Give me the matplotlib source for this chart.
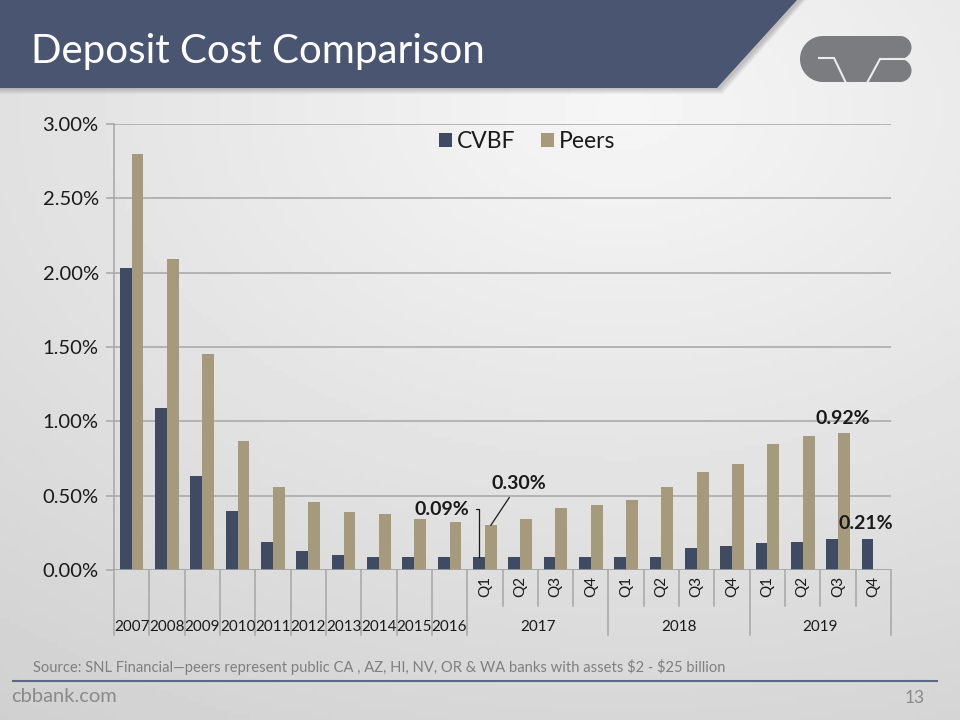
import numpy as np
import matplotlib
matplotlib.use("Agg")
import matplotlib.pyplot as plt
from matplotlib import transforms
from matplotlib.patches import Polygon

plt.rcParams['font.family'] = ['Lato', 'DejaVu Sans']

# data
years = ['2007', '2008', '2009', '2010', '2011', '2012', '2013', '2014', '2015', '2016']
quarter_years = ['2017', '2018', '2019']
quarters = ['Q1', 'Q2', 'Q3', 'Q4']
cvbf = [2.03, 1.09, 0.63, 0.40, 0.19, 0.13, 0.10, 0.09, 0.09, 0.09,
        0.09, 0.09, 0.09, 0.09,
        0.09, 0.09, 0.15, 0.16,
        0.18, 0.19, 0.21, 0.21]
peers = [2.80, 2.09, 1.45, 0.87, 0.56, 0.46, 0.39, 0.38, 0.34, 0.32,
         0.30, 0.34, 0.42, 0.44,
         0.47, 0.56, 0.66, 0.71,
         0.85, 0.90, 0.92, np.nan]
y_ticks = [0.0, 0.5, 1.0, 1.5, 2.0, 2.5, 3.0]

CVBF_COL = '#3f4a63'
PEER_COL = '#a59b7c'
BANNER = '#4a5571'
TXT = '#1a1a1a'

W, H = 960, 720
fig = plt.figure(figsize=(W / 100, H / 100), dpi=100)

# background in pixel coords (y downward)
bg = fig.add_axes([0, 0, 1, 1])
bg.axis('off')
gx, gy = np.meshgrid(np.linspace(0, 1, 200), np.linspace(0, 1, 150))
r = np.sqrt(((gx - 0.65) / 1.0) ** 2 + ((gy - 0.15) / 0.9) ** 2)
shade = 0.965 - 0.13 * np.clip(r, 0, 1.2)
bg.imshow(shade, cmap='gray', vmin=0, vmax=1, extent=[0, W, H, 0], aspect='auto', zorder=0)
bg.set_xlim(0, W)
bg.set_ylim(H, 0)

# header banner with soft shadow
for k in range(6, 0, -1):
    bg.add_patch(Polygon([(0, 0), (800 + k, 0), (719 + k * 0.6, 88 + k), (0, 88 + k)],
                         closed=True, facecolor='#555555', alpha=0.06, lw=0, zorder=1))
bg.add_patch(Polygon([(0, 0), (797, 0), (717, 88), (0, 88)], closed=True,
                     facecolor=BANNER, lw=0, zorder=2))
bg.text(31, 52, 'Deposit Cost Comparison', color='white', fontsize=29,
        va='center', ha='left', zorder=3)

# CVB logo (simplified): one blob with two cut lines
a = np.linspace(0, np.pi, 40)
top_lobe = [(900 + 11.5 * np.sin(v), 36 + 11.5 * (1 - np.cos(v))) for v in a]
bot_lobe = [(900 + 11.5 * np.sin(v), 59 + 11.5 * (1 - np.cos(v))) for v in a]
left_end = [(823 - 23 * np.sin(v), 82 - 23 * (1 - np.cos(v))) for v in a]
body = [(823, 36)] + top_lobe + bot_lobe + left_end
bg.add_patch(Polygon(body, closed=True, facecolor='#7b7c80', edgecolor='none', zorder=3))
bg.plot([818, 834, 846], [58, 58, 83], color='#ececec', lw=1.5, zorder=4,
        solid_capstyle='butt', solid_joinstyle='miter')
bg.plot([867, 880, 913], [83, 59, 59], color='#ececec', lw=1.5, zorder=4,
        solid_capstyle='butt', solid_joinstyle='miter')

# footer
bg.text(33, 667, r'Source: SNL Financial—peers represent public CA , AZ, HI, NV, OR & WA banks with assets \$2 - \$25 billion',
        color='#7f7f7f', fontsize=10.6, va='center', ha='left', zorder=3)
bg.plot([13, 937], [681, 681], color='#5d6782', lw=1.5, zorder=3)
bg.text(11, 697, 'cbbank.com', color='#8a8a8a', fontsize=14.5, va='center', ha='left', zorder=3)
bg.text(925, 698, '13', color='#8a8a8a', fontsize=12.5, va='center', ha='right', zorder=3)

# main chart
x0, x1, ytop, ybot = 114, 891, 124, 570
ax = fig.add_axes([x0 / W, (H - ybot) / H, (x1 - x0) / W, (ybot - ytop) / H])
ax.patch.set_alpha(0)
n = len(cvbf)
x = np.arange(n)
bw = 0.335
ax.bar(x - bw / 2, cvbf, bw, color=CVBF_COL, label='CVBF', zorder=3)
ax.bar(x + bw / 2, peers, bw, color=PEER_COL, label='Peers', zorder=3)
ax.set_xlim(-0.5, n - 0.5)
ax.set_ylim(0, 3.0)
ax.set_yticks(y_ticks)
ax.set_yticklabels([f'{v:.2f}%' for v in y_ticks], fontsize=14.5, color=TXT)
ax.yaxis.grid(True, color='#a6a6a6', lw=1.1, zorder=0)
ax.set_xticks([])
for s in ['top', 'right', 'bottom']:
    ax.spines[s].set_visible(False)
ax.spines['left'].set_color('#a6a6a6')
ax.spines['left'].set_linewidth(1.1)
ax.tick_params(axis='y', length=6, color='#a6a6a6', width=1.1, pad=5)
ax.axhline(0, color='#a6a6a6', lw=1.1, zorder=4)

leg = ax.legend(loc='upper center', bbox_to_anchor=(0.532, 1.03), ncol=2, frameon=False,
                fontsize=16.5, handlelength=0.55, handleheight=0.55, handletextpad=0.25,
                columnspacing=1.1)
for txt in leg.get_texts():
    txt.set_color(TXT)

# multi-level category axis
tb = transforms.blended_transform_factory(ax.transData, bg.transData)
sep_col = '#a6a6a6'
n_years = len(years)
for k in range(n + 1):
    pos = k - 0.5
    q_idx = k - n_years
    full = k <= n_years or q_idx % 4 == 0
    bg_y = 635 if full else 606
    ax.plot([pos, pos], [ybot, bg_y], color=sep_col, lw=1.1, transform=tb, clip_on=False)
for i, yl in enumerate(years):
    ax.text(i, 627, yl, transform=tb, ha='center', va='center', fontsize=11, color=TXT)
for j, qy in enumerate(quarter_years):
    start = n_years + 4 * j
    ax.text(start + 1.5, 627, qy, transform=tb, ha='center', va='center', fontsize=11, color=TXT)
    for qi, q in enumerate(quarters):
        ax.text(start + qi, 586, q, transform=tb, ha='center', va='center', fontsize=11,
                color=TXT, rotation=90)

# data labels
i17 = n_years
ax.annotate(f'{cvbf[i17]:.2f}%', xy=(i17 - bw / 2, cvbf[i17]), xytext=(i17 - 1.22, 0.41),
            fontsize=14, fontweight='bold', color=TXT, ha='center', va='center',
            arrowprops=dict(arrowstyle='-', color=TXT, lw=0.9,
                            connectionstyle='angle,angleA=0,angleB=90,rad=0',
                            shrinkA=3, shrinkB=0))
ax.annotate(f'{peers[i17]:.2f}%', xy=(i17 + bw / 2, peers[i17]), xytext=(i17 + 0.95, 0.58),
            fontsize=14, fontweight='bold', color=TXT, ha='center', va='center',
            arrowprops=dict(arrowstyle='-', color=TXT, lw=0.9, shrinkA=2, shrinkB=0))
ip = n - 2
ax.text(ip + 0.14, peers[ip] + 0.1, f'{peers[ip]:.2f}%', fontsize=14, fontweight='bold',
        color=TXT, ha='center', va='center')
ic = n - 1
ax.text(ic - 0.21, cvbf[ic] + 0.105, f'{cvbf[ic]:.2f}%', fontsize=14, fontweight='bold',
        color=TXT, ha='center', va='center')

fig.savefig('out.png', dpi=100)
